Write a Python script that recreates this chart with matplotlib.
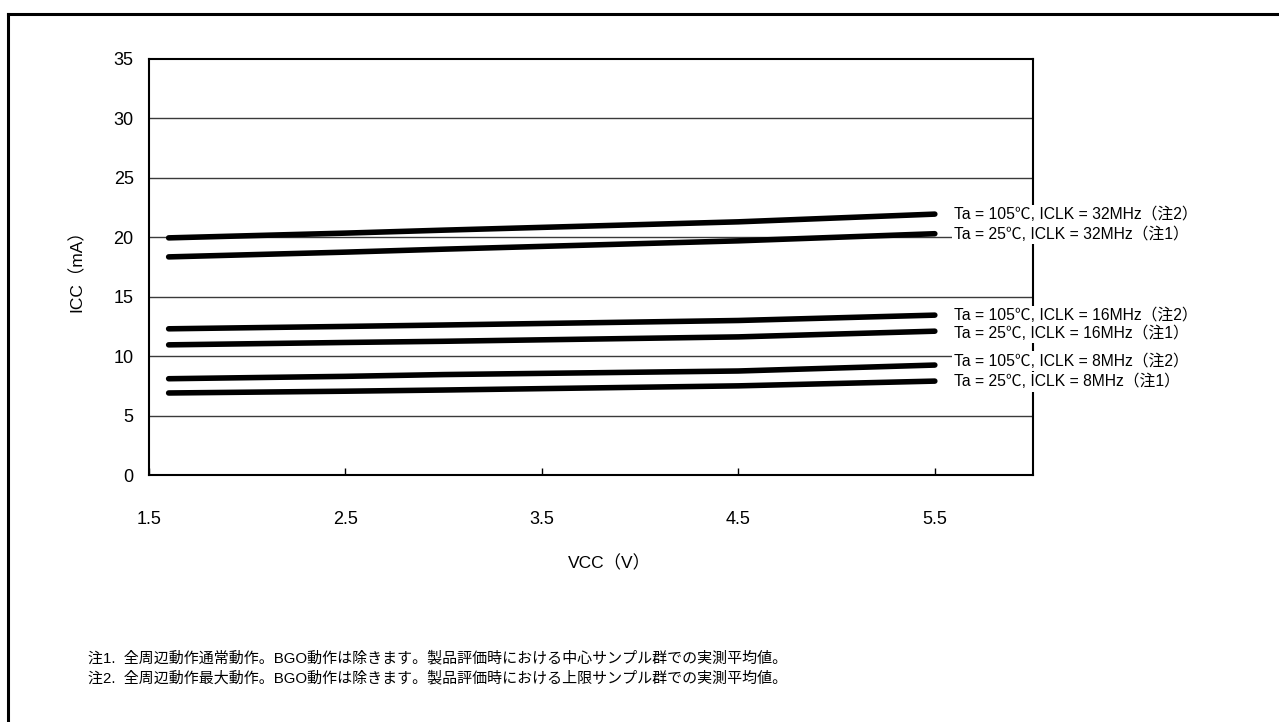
import matplotlib
matplotlib.use('Agg')
import matplotlib.pyplot as plt
from matplotlib.lines import Line2D

plt.rcParams['font.family'] = ['Liberation Sans', 'Noto Sans CJK JP', 'DejaVu Sans']

# データ
vcc = [1.6, 2.5, 3.0, 4.5, 5.5]
icc_105_32 = [19.95, 20.35, 20.6, 21.3, 21.95]
icc_25_32 = [18.35, 18.75, 19.0, 19.7, 20.3]
icc_105_16 = [12.3, 12.5, 12.62, 13.0, 13.45]
icc_25_16 = [10.95, 11.15, 11.25, 11.62, 12.1]
icc_105_8 = [8.1, 8.3, 8.45, 8.75, 9.25]
icc_25_8 = [6.9, 7.05, 7.15, 7.5, 7.9]

series = [icc_105_32, icc_25_32, icc_105_16, icc_25_16, icc_105_8, icc_25_8]
labels = ['Ta = 105℃, ICLK = 32MHz（注2）',
          'Ta = 25℃, ICLK = 32MHz（注1）',
          'Ta = 105℃, ICLK = 16MHz（注2）',
          'Ta = 25℃, ICLK = 16MHz（注1）',
          'Ta = 105℃, ICLK = 8MHz（注2）',
          'Ta = 25℃, ICLK = 8MHz（注1）']
label_y = [21.9, 20.25, 13.4, 11.95, 9.6, 7.85]

x_ticks = [1.5, 2.5, 3.5, 4.5, 5.5]
y_ticks = [0, 5, 10, 15, 20, 25, 30, 35]

notes = ['注1.  全周辺動作通常動作。BGO動作は除きます。製品評価時における中心サンプル群での実測平均値。',
         '注2.  全周辺動作最大動作。BGO動作は除きます。製品評価時における上限サンプル群での実測平均値。']

fig = plt.figure(figsize=(12.79, 7.22), dpi=100)
ax = fig.add_axes([0.1165, 0.3421, 0.6912, 0.5762])

for y in y_ticks[1:-1]:
    ax.axhline(y, color='#3a3a3a', lw=1.0, zorder=1)

for vals in series:
    ax.plot(vcc, vals, color='black', lw=4.0, solid_capstyle='round', zorder=3)

for lab, ly in zip(labels, label_y):
    ax.text(5.6, ly, lab, fontsize=11.3, va='center', ha='left', zorder=6, clip_on=False,
            bbox=dict(boxstyle='square,pad=0.15', facecolor='white', edgecolor='none'))

ax.set_xlim(1.5, 6.0)
ax.set_ylim(0, 35)
ax.set_xticks(x_ticks)
ax.set_xticklabels([str(v) for v in x_ticks])
ax.set_yticks(y_ticks)
ax.tick_params(axis='x', direction='in', length=5, width=1, pad=26, labelsize=13)
ax.tick_params(axis='y', length=0, pad=11, labelsize=13)

for s in ax.spines.values():
    s.set_linewidth(1.5)
    s.set_zorder(4)

ax.set_xlabel('VCC（V）', fontsize=12.5)
ax.set_ylabel('ICC（mA）', fontsize=12.5)
ax.xaxis.set_label_coords(0.521, -0.192)
ax.yaxis.set_label_coords(-0.0724, 0.5)

fig.text(0.0688, 0.0886, notes[0], fontsize=10.8, va='center')
fig.text(0.0688, 0.061, notes[1], fontsize=10.8, va='center')

# 外枠
fig.add_artist(Line2D([8 / 1279, 1], [1 - 14 / 722, 1 - 14 / 722], color='black', lw=2.2,
                      transform=fig.transFigure))
fig.add_artist(Line2D([8 / 1279, 8 / 1279], [1 - 14 / 722, 0], color='black', lw=2.2,
                      transform=fig.transFigure))

fig.savefig('out.png', dpi=100)
